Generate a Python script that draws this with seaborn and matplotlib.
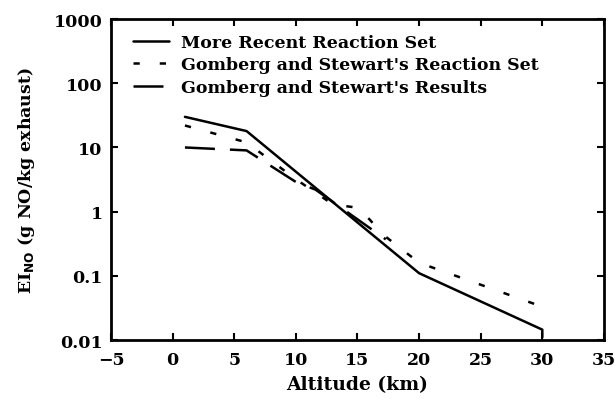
import pandas as pd
import matplotlib
matplotlib.use('Agg')
import matplotlib.pyplot as plt
import seaborn as sns

# Series (altitude in km, EI_NO in g NO/kg exhaust)
recent_alt = [1, 6, 20, 30, 30]
recent_ei = [30, 18, 0.11, 0.0145, 0.011]

gs_set_alt = [1, 6, 10, 13, 15, 16, 17, 20, 30]
gs_set_ei = [22, 12, 3.2, 1.3, 1.15, 0.75, 0.45, 0.16, 0.033]

gs_res_alt = [1, 6, 10, 11.6, 17.3]
gs_res_ei = [10, 9, 2.9, 2.2, 0.37]

labels = ['More Recent Reaction Set',
          "Gomberg and Stewart's Reaction Set",
          "Gomberg and Stewart's Results"]

sns.set_style('ticks')
plt.rcParams['font.family'] = ['DejaVu Serif']
plt.rcParams['font.weight'] = 'bold'
plt.rcParams['text.color'] = 'black'
plt.rcParams['axes.labelcolor'] = 'black'
plt.rcParams['xtick.color'] = 'black'
plt.rcParams['ytick.color'] = 'black'
plt.rcParams['axes.edgecolor'] = 'black'

fig = plt.figure(figsize=(6.15, 4.02), dpi=100)
ax = fig.add_axes([0.1805, 0.1517, 0.8015, 0.7983])

df1 = pd.DataFrame({'alt': recent_alt, 'ei': recent_ei})
df2 = pd.DataFrame({'alt': gs_set_alt, 'ei': gs_set_ei})
df3 = pd.DataFrame({'alt': gs_res_alt, 'ei': gs_res_ei})

sns.lineplot(data=df1, x='alt', y='ei', ax=ax, color='black', lw=1.8,
             sort=False, estimator=None, label=labels[0])
sns.lineplot(data=df2, x='alt', y='ei', ax=ax, color='black', lw=1.8,
             sort=False, estimator=None, label=labels[1], dashes=False)
sns.lineplot(data=df3, x='alt', y='ei', ax=ax, color='black', lw=1.8,
             sort=False, estimator=None, label=labels[2], dashes=False)
lines = ax.get_lines()
lines[1].set_dashes([2.5, 8])
lines[2].set_dashes([12, 6])

ax.set_yscale('log')
ax.set_xlim(-5, 35)
ax.set_ylim(0.01, 1000)
ax.set_xticks(range(-5, 40, 5))
ax.set_yticks([0.01, 0.1, 1, 10, 100, 1000])
ax.set_yticklabels(['0.01', '0.1', '1', '10', '100', '1000'])
ax.minorticks_off()
ax.tick_params(direction='in', length=5, width=1.5, top=True, right=True,
               labelsize=12.5)
ax.tick_params(axis='x', pad=8)
ax.tick_params(axis='y', pad=6)
for s in ax.spines.values():
    s.set_linewidth(2)
    s.set_visible(True)

ax.set_xlabel('Altitude (km)', fontsize=13.5, fontweight='bold', labelpad=5)
ax.set_ylabel(r'EI$_{\mathbf{NO}}$ (g NO/kg exhaust)', fontsize=12.5,
              fontweight='bold', labelpad=12)

leg = ax.legend(loc='upper left', bbox_to_anchor=(0.03, 0.976), frameon=False,
                fontsize=12.5, handlelength=2.1, handletextpad=0.7,
                borderaxespad=0.0, labelspacing=0.32)

fig.savefig('out.png', dpi=100)
